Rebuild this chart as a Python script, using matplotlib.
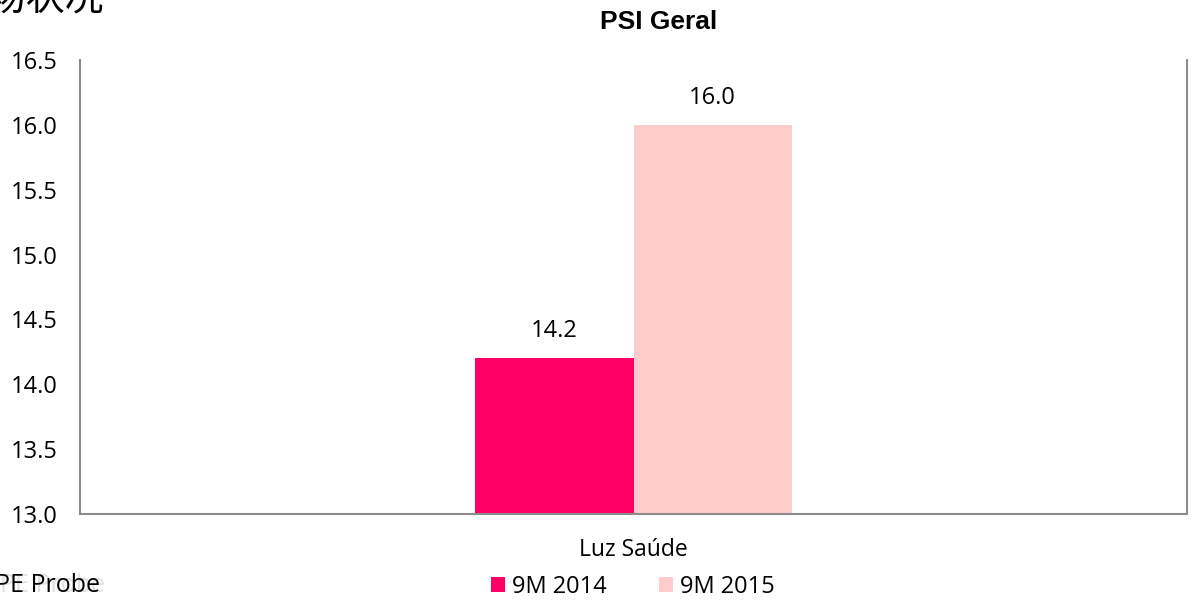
import matplotlib.pyplot as plt

plt.rcParams['font.family'] = ['Open Sans', 'Noto Sans CJK SC', 'DejaVu Sans']

categories = ['Luz Saúde']
series_names = ['9M 2014', '9M 2015']
values_2014 = [14.2]
values_2015 = [16.0]
colors = ['#FF0066', '#FFCCCC']
y_ticks = [13.0, 13.5, 14.0, 14.5, 15.0, 15.5, 16.0, 16.5]

fig = plt.figure(figsize=(11.92, 6.0), dpi=100)
ax = fig.add_axes([80 / 1192, 1 - 514 / 600, 1107 / 1192, 454 / 600])

w = 0.143
x = list(range(len(categories)))
b1 = ax.bar([i - w / 2 for i in x], values_2014, width=w, color=colors[0], label=series_names[0])
b2 = ax.bar([i + w / 2 for i in x], values_2015, width=w, color=colors[1], label=series_names[1])

for bars, vals in [(b1, values_2014), (b2, values_2015)]:
    for r, v in zip(bars, vals):
        ax.annotate(f'{v:.1f}', (r.get_x() + r.get_width() / 2, v), xytext=(0, 19.5),
                    textcoords='offset points', ha='center', va='center', fontsize=17)

ax.set_xlim(-0.5, 0.5)
ax.set_ylim(13.0, 16.5)
ax.set_yticks(y_ticks)
ax.set_yticklabels([f'{t:.1f}' for t in y_ticks], fontsize=17)
ax.set_xticks(x)
ax.set_xticklabels(categories, fontsize=16.5)
ax.tick_params(axis='y', length=0, pad=16)
ax.tick_params(axis='x', length=0, pad=17)
ax.spines['top'].set_visible(False)
for s in ['left', 'right', 'bottom']:
    ax.spines[s].set_color('#8c8c8c')
    ax.spines[s].set_linewidth(1.5)

fig.text(659 / 1192, 1 - 22 / 600, 'PSI Geral', ha='center', va='center',
         fontsize=19, fontweight='bold', family=['Liberation Sans', 'DejaVu Sans'])

leg = fig.legend(handles=[b1, b2], loc='center', bbox_to_anchor=(633 / 1192, 1 - 587 / 600),
                 ncol=2, frameon=False, fontsize=17, handlelength=0.6, handleheight=0.6,
                 handletextpad=0.3, columnspacing=2.2)

# clipped text at the edges of the page
fig.text(-52 / 1192, 1.002, '市场状况', ha='left', va='center', fontsize=28,
         family=['Noto Sans CJK SC', 'DejaVu Sans'])
fig.text(0.0, 1 - 586 / 600, 'PE Probe', ha='left', va='center', fontsize=18, color='#e0e0e0')
fig.text(-0.004, 1 - 585 / 600, 'PE Probe', ha='left', va='center', fontsize=18, color='black')

fig.savefig('out.png', dpi=100)
